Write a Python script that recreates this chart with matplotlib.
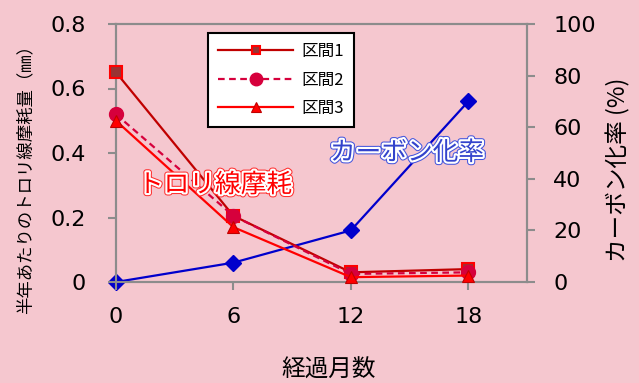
import matplotlib
matplotlib.use("Agg")
import matplotlib.pyplot as plt
import matplotlib.patheffects as pe

plt.rcParams['font.family'] = ['DejaVu Sans', 'Noto Sans CJK JP']

months = [0, 6, 12, 18]
wear1 = [0.65, 0.205, 0.03, 0.04]
wear2 = [0.52, 0.205, 0.025, 0.03]
wear3 = [0.50, 0.17, 0.015, 0.02]
carbon = [0, 7.5, 20, 70]
labels = ['区間1', '区間2', '区間3']

bg = '#F5C7CF'
gray = '#8C8C8C'
jp = ['Noto Sans CJK JP']
fig = plt.figure(figsize=(6.39, 3.83), dpi=100, facecolor=bg)
ax = fig.add_axes([116/639, 1-282/383, (527-116)/639, (282-24)/383])
ax.set_facecolor(bg)
ax2 = ax.twinx()

ax.plot(months, wear1, color='#C00000', lw=1.6, marker='s', ms=9,
        mfc='#993333', mec='#FF0000', mew=1.5, label=labels[0], zorder=3, clip_on=False)
ax.plot(months, wear2, color='#D6003C', lw=1.6, ls=(0, (3, 2)), marker='o', ms=10,
        mfc='#D6003C', mec='#D6003C', label=labels[1], zorder=3, clip_on=False)
ax.plot(months, wear3, color='#FF0000', lw=1.6, marker='^', ms=9,
        mfc='#FF0000', mec='#C00000', mew=0.8, label=labels[2], zorder=3, clip_on=False)
ax2.plot(months, carbon, color='#0000CC', lw=1.6, marker='D', ms=8,
         mfc='#0000CC', mec='#0000CC', zorder=3, clip_on=False)

ax.set_xlim(0, 21)
ax.set_ylim(0, 0.8)
ax2.set_ylim(0, 100)
ax.set_xticks(months)
ax.set_yticks([0, 0.2, 0.4, 0.6, 0.8])
ax.set_yticklabels(['0', '0.2', '0.4', '0.6', '0.8'])
ax2.set_yticks([0, 20, 40, 60, 80, 100])

for a in (ax, ax2):
    for s in a.spines.values():
        s.set_color(gray)
        s.set_linewidth(1.5)
    a.tick_params(colors=gray, labelcolor='black', labelsize=16, width=1.5, length=6, pad=13)
ax.tick_params(axis='y', pad=16)
ax.tick_params(axis='x', pad=12)

xl = ax.set_xlabel('経過月数', fontsize=17, family=jp)
ax.xaxis.set_label_coords((329-116)/411, (282-370)/258)
xl.set_va('center')
yl = ax.set_ylabel('半年あたりのトロリ線摩耗量（㎜）', fontsize=12.5, family=jp)
ax.yaxis.set_label_coords((25-116)/411, (282-175)/258)
yl.set_va('center')
yr = ax2.set_ylabel('カーボン化率 (%)', fontsize=17, family=jp)
ax2.yaxis.set_label_coords((618-116)/411, (282-170)/258)
yr.set_va('center')

ax.set_zorder(ax2.get_zorder() + 1)
ax.patch.set_visible(False)
ax2.patch.set_visible(True)
ax2.patch.set_facecolor(bg)

leg = ax.legend(loc='upper left', bbox_to_anchor=((208-116)/411, 1-(33-24)/258),
                frameon=True, fancybox=False, edgecolor='black', framealpha=1,
                prop={'family': jp, 'size': 12}, handlelength=4.5,
                labelspacing=0.7, borderpad=0.6, handletextpad=0.5, borderaxespad=0)
leg.get_frame().set_linewidth(1.5)
for h, m in zip(leg.legend_handles, [6, 9, 7]):
    h.set_markersize(m)

ax.text(1.12, 0.30, 'トロリ線摩耗', color='#FF0000', fontsize=18.5, family=jp,
        ha='left', va='center',
        path_effects=[pe.withStroke(linewidth=4.5, foreground='#FF3030'),
                      pe.withStroke(linewidth=3, foreground='white')], zorder=5)
ax2.text(10.93, 50, 'カーボン化率', color='#3344CC', fontsize=18.5, family=jp,
         ha='left', va='center',
         path_effects=[pe.withStroke(linewidth=4.5, foreground='#4455DD'),
                       pe.withStroke(linewidth=3, foreground='white')], zorder=5)

fig.savefig('out.png', dpi=100, facecolor=bg)
